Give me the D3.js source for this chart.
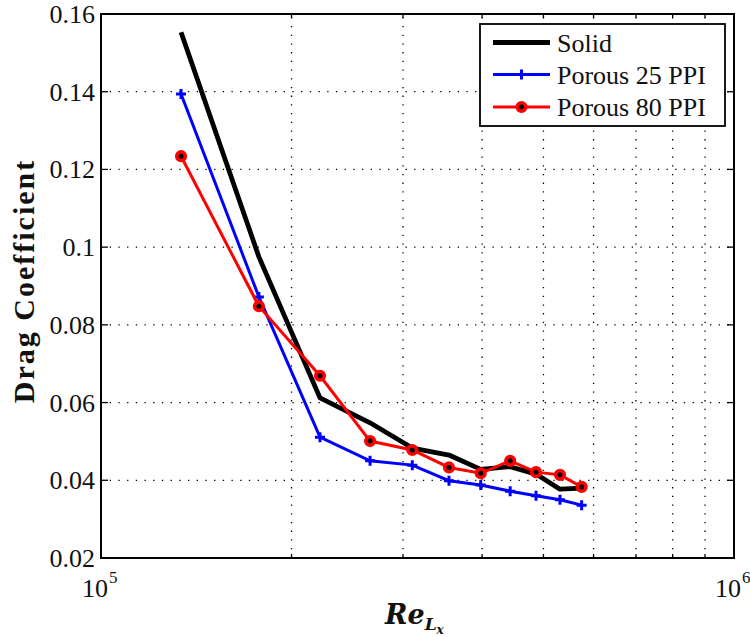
<!DOCTYPE html>
<html>
<head>
<meta charset="utf-8">
<script src="https://cdn.jsdelivr.net/npm/d3@7"></script>
<style>
  html, body { margin: 0; padding: 0; background: #fff; }
</style>
</head>
<body>
<svg id="chart" width="750" height="637" font-family="'Liberation Serif', 'Times New Roman', Tinos, 'Nimbus Roman', 'DejaVu Serif', serif"></svg>
<script>
// Reynolds numbers of the measurement stations
const reynolds = [1.338e5, 1.776e5, 2.218e5, 2.661e5, 3.103e5, 3.546e5, 3.98e5, 4.43e5, 4.867e5, 5.31e5, 5.745e5];

// Drag coefficient per configuration
const solid    = [0.1553, 0.0975, 0.0612, 0.0548, 0.0483, 0.0465, 0.0428, 0.0435, 0.0416, 0.0377, 0.0380];
const porous25 = [0.1394, 0.0872, 0.0511, 0.0450, 0.0439, 0.0399, 0.0388, 0.0372, 0.0360, 0.0350, 0.0336];
const porous80 = [0.1234, 0.0848, 0.0669, 0.0501, 0.0478, 0.0433, 0.0418, 0.0450, 0.0421, 0.0414, 0.0383];

const seriesNames = ["Solid", "Porous 25 PPI", "Porous 80 PPI"];
const yTicks = [0.02, 0.04, 0.06, 0.08, 0.1, 0.12, 0.14, 0.16];
const yTickLabels = ["0.02", "0.04", "0.06", "0.08", "0.1", "0.12", "0.14", "0.16"];
const xDecades = [1e5, 1e6];
const xDecadeExponents = ["5", "6"];

const svg = d3.select("#chart");
const m = { left: 101, right: 734, top: 14, bottom: 558 };

const x = d3.scaleLog().domain([1e5, 1e6]).range([m.left, m.right]);
const y = d3.scaleLinear().domain([0.02, 0.16]).range([m.bottom, m.top]);

// minor log positions 2e5 .. 9e5
const xMinor = d3.range(2, 10).map(k => k * 1e5);

// dotted grid
const grid = svg.append("g").attr("stroke", "#000").attr("stroke-width", 1.3)
  .attr("stroke-dasharray", "1.3,7.4");
grid.selectAll("line.v").data(xMinor).join("line")
  .attr("x1", d => x(d)).attr("x2", d => x(d))
  .attr("y1", m.bottom).attr("y2", m.top);
grid.selectAll("line.h").data(yTicks.slice(1, -1)).join("line")
  .attr("x1", m.left).attr("x2", m.right)
  .attr("y1", d => y(d)).attr("y2", d => y(d));

// inward tick marks on all four sides
const ticks = svg.append("g").attr("stroke", "#000").attr("stroke-width", 1.3);
const majLen = 7, minLen = 4;
yTicks.forEach(v => {
  ticks.append("line").attr("x1", m.left).attr("x2", m.left + majLen).attr("y1", y(v)).attr("y2", y(v));
  ticks.append("line").attr("x1", m.right).attr("x2", m.right - majLen).attr("y1", y(v)).attr("y2", y(v));
});
xMinor.forEach(v => {
  ticks.append("line").attr("x1", x(v)).attr("x2", x(v)).attr("y1", m.bottom).attr("y2", m.bottom - minLen);
  ticks.append("line").attr("x1", x(v)).attr("x2", x(v)).attr("y1", m.top).attr("y2", m.top + minLen);
});

// y tick labels
svg.append("g").selectAll("text").data(yTicks).join("text")
  .attr("x", m.left - 6).attr("y", d => y(d) + 9)
  .attr("text-anchor", "end").attr("font-size", 26).attr("fill", "#111")
  .text((d, i) => yTickLabels[i]);

// x decade labels 10^n
const xl = svg.append("g").attr("fill", "#111");
xDecades.forEach((v, i) => {
  xl.append("text").attr("x", x(v) + 7).attr("y", 597)
    .attr("text-anchor", "end").attr("font-size", 26).text("10");
  xl.append("text").attr("x", x(v) + 8).attr("y", 583)
    .attr("font-size", 17).text(xDecadeExponents[i]);
});

// axis labels
svg.append("text")
  .attr("transform", "translate(34,281) rotate(-90)")
  .attr("text-anchor", "middle").attr("font-size", 30).attr("font-weight", "bold")
  .attr("letter-spacing", 2).attr("fill", "#111")
  .text("Drag Coefficient");

const xLabel = svg.append("text").attr("x", 385).attr("y", 624)
  .attr("font-size", 27).attr("font-weight", "bold").attr("font-style", "italic")
  .attr("font-family", "'DejaVu Serif', serif").attr("fill", "#111");
xLabel.append("tspan").text("Re");
xLabel.append("tspan").attr("dy", 6).attr("font-size", 17).text("L");
xLabel.append("tspan").attr("dy", 4).attr("font-size", 12).text("x");

// data lines
const line = d3.line().x(d => x(d[0])).y(d => y(d[1]));
const zip = arr => reynolds.map((r, i) => [r, arr[i]]);

const plot = svg.append("g");
plot.append("path").datum(zip(solid)).attr("d", line)
  .attr("fill", "none").attr("stroke", "#000").attr("stroke-width", 4.8)
  .attr("stroke-linejoin", "round");

plot.append("path").datum(zip(porous25)).attr("d", line)
  .attr("fill", "none").attr("stroke", "#0000ff").attr("stroke-width", 3);
const plus = (g, cx, cy) => {
  g.append("path").attr("d", `M${cx - 5},${cy}H${cx + 5}M${cx},${cy - 5}V${cy + 5}`)
    .attr("stroke", "#0000ff").attr("stroke-width", 3).attr("fill", "none");
};
zip(porous25).forEach(d => plus(plot, x(d[0]), y(d[1])));

plot.append("path").datum(zip(porous80)).attr("d", line)
  .attr("fill", "none").attr("stroke", "#ff0000").attr("stroke-width", 3);
const ring = (g, cx, cy) => {
  g.append("circle").attr("cx", cx).attr("cy", cy).attr("r", 4.3)
    .attr("fill", "#000").attr("stroke", "#ff0000").attr("stroke-width", 3.6);
};
zip(porous80).forEach(d => ring(plot, x(d[0]), y(d[1])));

// frame
svg.append("rect").attr("x", m.left).attr("y", m.top)
  .attr("width", m.right - m.left).attr("height", m.bottom - m.top)
  .attr("fill", "none").attr("stroke", "#000").attr("stroke-width", 2);

// legend
const lg = svg.append("g");
lg.append("rect").attr("x", 480).attr("y", 24).attr("width", 245).attr("height", 102)
  .attr("fill", "#fff").attr("stroke", "#000").attr("stroke-width", 1.8);
const rows = [42.5, 74.5, 107];
const lx1 = 493, lx2 = 550, lxm = (lx1 + lx2) / 2;
lg.append("line").attr("x1", lx1).attr("x2", lx2).attr("y1", rows[0]).attr("y2", rows[0])
  .attr("stroke", "#000").attr("stroke-width", 4.8);
lg.append("line").attr("x1", lx1).attr("x2", lx2).attr("y1", rows[1]).attr("y2", rows[1])
  .attr("stroke", "#0000ff").attr("stroke-width", 3);
plus(lg, lxm, rows[1]);
lg.append("line").attr("x1", lx1).attr("x2", lx2).attr("y1", rows[2]).attr("y2", rows[2])
  .attr("stroke", "#ff0000").attr("stroke-width", 3);
ring(lg, lxm, rows[2]);
lg.selectAll("text").data(seriesNames).join("text")
  .attr("x", 557).attr("y", (d, i) => rows[i] + 9)
  .attr("font-size", 26).attr("fill", "#111").text(d => d);
</script>
</body>
</html>
